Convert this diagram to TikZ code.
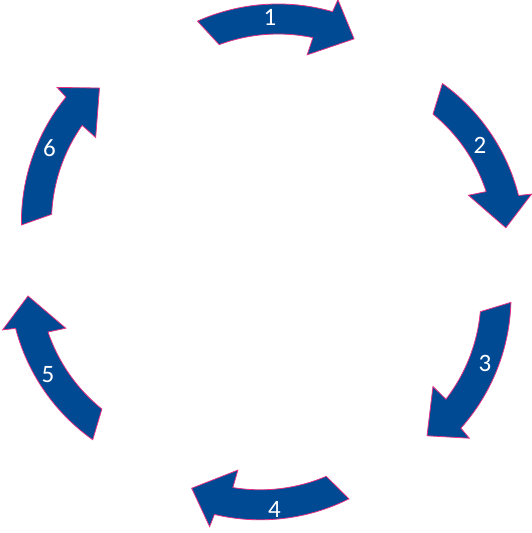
\documentclass[tikz,border=0pt]{standalone}
\usepackage{fontspec}
\setmainfont{Carlito}
\definecolor{cycleblue}{RGB}{0,74,148}
\definecolor{cyclepink}{RGB}{230,50,130}
\begin{document}
\begin{tikzpicture}[x=1pt,y=1pt,
  bentarrow/.style={fill=cycleblue,draw=cyclepink,line width=0.8pt,line join=miter},
  numlabel/.style={text=white,font=\fontsize{25}{30}\selectfont,inner sep=0pt}]
\useasboundingbox (0,0) rectangle (531,533);
\foreach \mx/\my/\rot/\lx/\ly/\num in {275/501/0/270/516/1,472/377/-59.8/480/388/2,
  467.5/165.5/-115.7/485/169.5/3,271/41.5/-177.4/274.5/23.5/4,
  62.5/165.5/-239.3/48/158/5,62/375/-293.2/49.5/384.5/6}{
  \begin{scope}[shift={(\mx,\my)},rotate=\rot,shift={(3,-170)}]
    \draw[bentarrow] (114:198) arc[start angle=114,end angle=74,radius=198]
      -- (73.5:211) -- (65:180) -- (78.8:150) -- (78:168)
      arc[start angle=78,end angle=110.5,radius=168] -- cycle;
  \end{scope}
  \node[numlabel] (n\num) at (\lx,\ly) {\num};
}
\end{tikzpicture}
\end{document}
